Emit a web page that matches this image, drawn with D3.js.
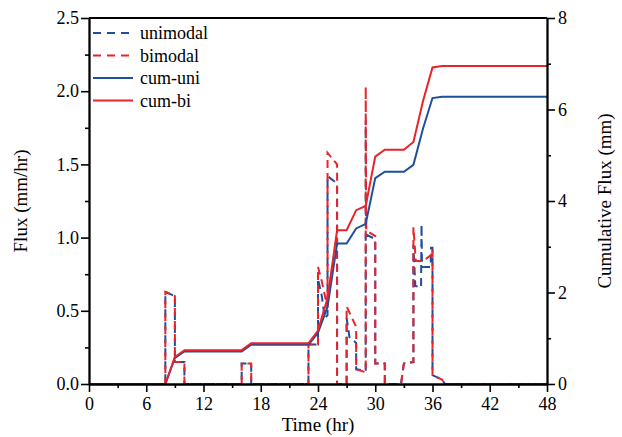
<!DOCTYPE html>
<html>
<head>
<meta charset="utf-8">
<script src="https://cdn.jsdelivr.net/npm/d3@7"></script>
<style>
  html, body { margin: 0; padding: 0; background: #fff; }
  svg { display: block; }
  text { font-family: "Liberation Serif", "Times New Roman", serif; fill: #000; }
</style>
</head>
<body>
<svg id="chart" width="622" height="437"></svg>
<script>
// Hourly flux series (mm/hr), given as breakpoints [time, value]
const uniTime = [0, 8, 8, 9, 9, 10, 10, 16, 16, 17, 17, 23, 23, 24, 24, 24.4, 24.7, 25, 25, 26, 26, 27, 27, 27.3, 28, 28, 29, 29, 29.05, 30, 30, 31, 31, 32.7, 33, 34, 34, 34.2, 34.8, 34.85, 34.9, 35.8, 35.85, 36, 36, 37, 37.3, 48];
const uniFlux = [0, 0, 0.63, 0.60, 0.15, 0.15, 0, 0, 0.14, 0.14, 0, 0, 0.27, 0.27, 0.72, 0.60, 0.45, 0.47, 1.42, 1.37, 0, 0, 0.45, 0.32, 0.28, 0.10, 0.09, 1.80, 1.02, 0.99, 0.14, 0.14, 0, 0, 0.14, 0.15, 0.95, 0.67, 0.66, 1.09, 0.80, 0.80, 0.93, 0.93, 0.06, 0.03, 0, 0];

const biTime = [0, 8, 8, 9, 9, 10, 10, 16, 16, 17, 17, 23, 23, 24, 24, 24.4, 25, 25, 26, 26, 27, 27, 28, 28, 29, 29, 29.05, 30, 30, 31, 31, 32.7, 33, 34, 34, 34.25, 35, 35.85, 36, 36, 37, 37.3, 48];
const biFlux = [0, 0, 0.63, 0.60, 0.15, 0.15, 0, 0, 0.14, 0.14, 0, 0, 0.27, 0.27, 0.80, 0.70, 0.52, 1.58, 1.50, 0, 0, 0.53, 0.39, 0.10, 0.08, 2.03, 1.05, 1.01, 0.14, 0.14, 0, 0, 0.14, 0.15, 1.07, 0.84, 0.84, 0.88, 0.92, 0.06, 0.03, 0, 0];

// Cumulative flux (mm) at hourly marks
const cumTime = [0, 8, 9, 10, 16, 17, 23, 24, 25, 26, 27, 28, 29, 30, 31, 33, 34, 35, 36, 37, 48];
const cumUni = [0, 0, 0.57, 0.71, 0.71, 0.86, 0.86, 1.12, 1.69, 3.07, 3.07, 3.40, 3.50, 4.50, 4.64, 4.64, 4.79, 5.58, 6.25, 6.28, 6.28];
const cumBi  = [0, 0, 0.59, 0.74, 0.74, 0.89, 0.89, 1.17, 1.88, 3.36, 3.36, 3.80, 3.89, 4.97, 5.12, 5.12, 5.29, 6.18, 6.92, 6.95, 6.95];

// Axis ticks
const xTicks = [0, 6, 12, 18, 24, 30, 36, 42, 48];
const xMinor = [3, 9, 15, 21, 27, 33, 39, 45];
const yTicks = [0, 0.5, 1.0, 1.5, 2.0, 2.5];
const yMinor = [0.25, 0.75, 1.25, 1.75, 2.25];
const y2Ticks = [0, 2, 4, 6, 8];
const y2Minor = [1, 3, 5, 7];

const BLUE = "#1f4e9e", RED = "#e8232b";

const legendItems = [
  { label: "unimodal", color: BLUE, dashed: true },
  { label: "bimodal", color: RED, dashed: true },
  { label: "cum-uni", color: BLUE, dashed: false },
  { label: "cum-bi", color: RED, dashed: false }
];

const plotLeft = 89, plotRight = 547, plotTop = 18, plotBottom = 384;

const svg = d3.select("#chart");
const x = d3.scaleLinear().domain([0, 48]).range([plotLeft, plotRight]);
const y = d3.scaleLinear().domain([0, 2.5]).range([plotBottom, plotTop]);
const y2 = d3.scaleLinear().domain([0, 8]).range([plotBottom, plotTop]);

const fluxLine = d3.line().x(d => x(d[0])).y(d => y(d[1]));
const cumLine = d3.line().x(d => x(d[0])).y(d => y2(d[1]));

const uniPts = uniTime.map((t, i) => [t, uniFlux[i]]);
const biPts = biTime.map((t, i) => [t, biFlux[i]]);
const cumUniPts = cumTime.map((t, i) => [t, cumUni[i]]);
const cumBiPts = cumTime.map((t, i) => [t, cumBi[i]]);

const plot = svg.append("g");

plot.append("path").datum(uniPts)
  .attr("d", fluxLine).attr("fill", "none").attr("stroke", BLUE)
  .attr("stroke-width", 2).attr("stroke-dasharray", "8,5");
plot.append("path").datum(biPts)
  .attr("d", fluxLine).attr("fill", "none").attr("stroke", RED)
  .attr("stroke-width", 2).attr("stroke-dasharray", "8,5").attr("stroke-dashoffset", 4);

plot.append("path").datum(cumUniPts)
  .attr("d", cumLine).attr("fill", "none").attr("stroke", BLUE).attr("stroke-width", 2);
plot.append("path").datum(cumBiPts)
  .attr("d", cumLine).attr("fill", "none").attr("stroke", RED).attr("stroke-width", 2);

// Axes
function styleAxis(g) {
  g.selectAll("path.domain").attr("stroke", "#000").attr("stroke-width", 1.8);
  g.selectAll(".tick line").attr("stroke", "#000").attr("stroke-width", 1.6);
  g.selectAll(".tick text").style("font-size", "18px").style("font-family", "Liberation Serif, serif").attr("fill", "#000");
}

const gx = svg.append("g").attr("transform", `translate(0,${plotBottom})`)
  .call(d3.axisBottom(x).tickValues(xTicks).tickSize(8).tickSizeOuter(0).tickPadding(5).tickFormat(d3.format("d")));
styleAxis(gx);
const gxm = svg.append("g").attr("transform", `translate(0,${plotBottom})`)
  .call(d3.axisBottom(x).tickValues(xMinor).tickSize(4).tickSizeOuter(0).tickFormat(""));
styleAxis(gxm);

const gy = svg.append("g").attr("transform", `translate(${plotLeft},0)`)
  .call(d3.axisLeft(y).tickValues(yTicks).tickSize(8).tickSizeOuter(0).tickPadding(2).tickFormat(d3.format(".1f")));
styleAxis(gy);
const gym = svg.append("g").attr("transform", `translate(${plotLeft},0)`)
  .call(d3.axisLeft(y).tickValues(yMinor).tickSize(4).tickSizeOuter(0).tickFormat(""));
styleAxis(gym);

const gy2 = svg.append("g").attr("transform", `translate(${plotRight},0)`)
  .call(d3.axisRight(y2).tickValues(y2Ticks).tickSize(8).tickSizeOuter(0).tickPadding(3).tickFormat(d3.format("d")));
styleAxis(gy2);
const gy2m = svg.append("g").attr("transform", `translate(${plotRight},0)`)
  .call(d3.axisRight(y2).tickValues(y2Minor).tickSize(4).tickSizeOuter(0).tickFormat(""));
styleAxis(gy2m);

// Top frame
svg.append("line").attr("x1", plotLeft).attr("x2", plotRight).attr("y1", plotTop).attr("y2", plotTop)
  .attr("stroke", "#000").attr("stroke-width", 1.8);

// Axis titles
svg.append("text").attr("x", (plotLeft + plotRight) / 2).attr("y", 431)
  .attr("text-anchor", "middle").style("font-size", "19px").text("Time (hr)");
svg.append("text").attr("transform", `translate(27,${(plotTop + plotBottom) / 2}) rotate(-90)`)
  .attr("text-anchor", "middle").style("font-size", "19px").text("Flux (mm/hr)");
svg.append("text").attr("transform", `translate(611,${(plotTop + plotBottom) / 2}) rotate(-90)`)
  .attr("text-anchor", "middle").style("font-size", "19px").text("Cumulative Flux (mm)");

// Legend
const lg = svg.append("g");
legendItems.forEach((d, i) => {
  const yy = 33 + i * 22.5;
  lg.append("line").attr("x1", 93).attr("x2", 133).attr("y1", yy).attr("y2", yy)
    .attr("stroke", d.color).attr("stroke-width", 2)
    .attr("stroke-dasharray", d.dashed ? "8,6" : null);
  lg.append("text").attr("x", 140).attr("y", yy + 6).style("font-size", "18px").text(d.label);
});
</script>
</body>
</html>
